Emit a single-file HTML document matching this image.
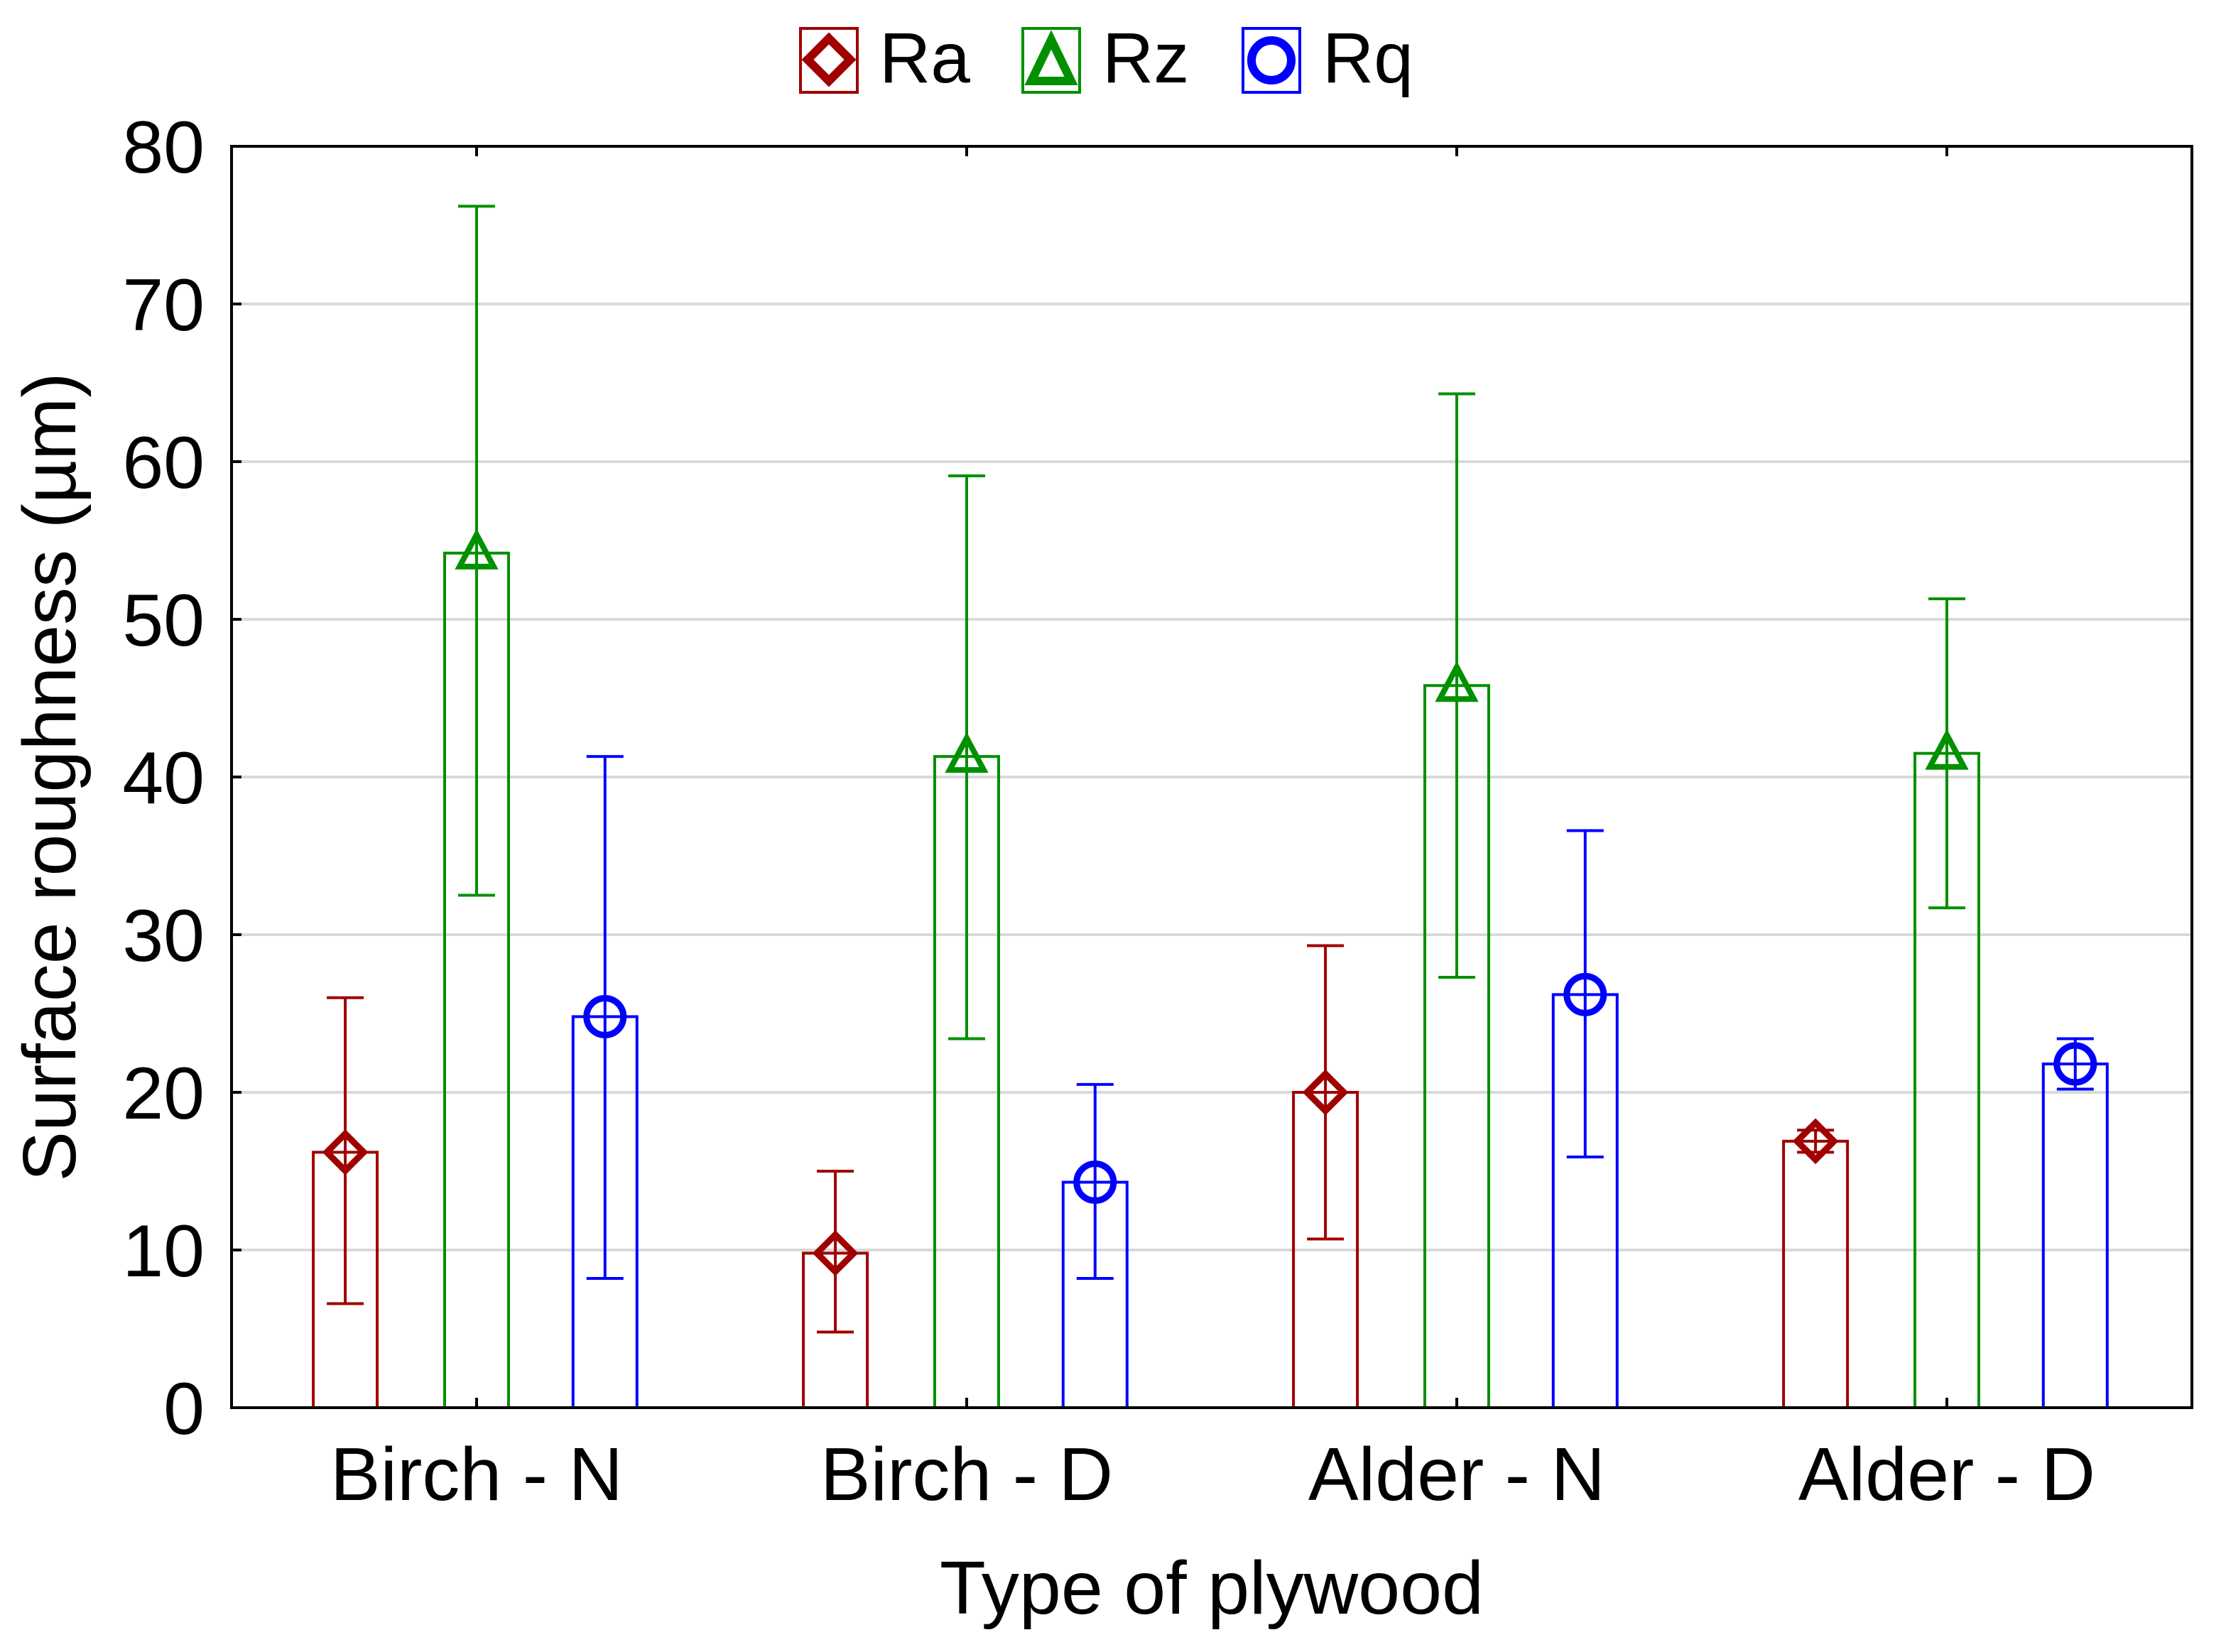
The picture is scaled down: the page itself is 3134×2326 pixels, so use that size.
<!DOCTYPE html>
<html><head><meta charset="utf-8"><style>
html,body{margin:0;padding:0;background:#fff}
svg{display:block;font-family:"Liberation Sans",Arial,sans-serif}
</style></head><body>
<svg id="chart" width="3134" height="2326" viewBox="0 0 3134 2326" xmlns="http://www.w3.org/2000/svg">
<rect width="3134" height="2326" fill="#fff"/>
<g id="grid"></g>
<g id="yticks"></g>
<g id="xticks"></g>
<g id="marks"></g>
<rect x="326" y="206" width="2760" height="1776" fill="none" stroke="#000" stroke-width="4"/>
<text transform="translate(106,1094) rotate(-90)" text-anchor="middle" font-size="106">Surface roughness (µm)</text>
<text x="1706" y="2272" text-anchor="middle" font-size="106">Type of plywood</text>
<g>
  <g>
    <rect x="1127" y="40" width="80" height="90" fill="none" stroke="#a00000" stroke-width="4"/>
    <path d="M1167 54 L1197 84 L1167 114 L1137 84 Z" fill="none" stroke="#a00000" stroke-width="12"/>
    <text x="1238" y="116" font-size="100">Ra</text>
  </g>
  <g>
    <rect x="1440" y="40" width="80" height="90" fill="none" stroke="#009000" stroke-width="4"/>
    <path d="M1480 56 L1508 114 L1452 114 Z" fill="none" stroke="#009000" stroke-width="12"/>
    <text x="1552" y="116" font-size="100">Rz</text>
  </g>
  <g>
    <rect x="1750" y="40" width="80" height="90" fill="none" stroke="#0000ff" stroke-width="4"/>
    <circle cx="1790" cy="85" r="28" fill="none" stroke="#0000ff" stroke-width="12"/>
    <text x="1862" y="116" font-size="100">Rq</text>
  </g>
</g>
</svg>
<script>
const categories = ["Birch - N","Birch - D","Alder - N","Alder - D"];
const raMean = [16.2, 9.8, 20.0, 16.9];
const raLow  = [6.6, 4.8, 10.7, 16.2];
const raHigh = [26.0, 15.0, 29.3, 17.6];
const rzMean = [54.2, 41.3, 45.8, 41.5];
const rzLow  = [32.5, 23.4, 27.3, 31.7];
const rzHigh = [76.2, 59.1, 64.3, 51.3];
const rqMean = [24.8, 14.3, 26.2, 21.8];
const rqLow  = [8.2, 8.2, 15.9, 20.2];
const rqHigh = [41.3, 20.5, 36.6, 23.4];
const yTicks = [0,10,20,30,40,50,60,70,80];

const NS="http://www.w3.org/2000/svg";
const L=326,R=3086,T=206,B=1982,YMAX=80;
const band=(R-L)/categories.length;
function y(v){return B-(v/YMAX)*(B-T);}
function xc(i){return L+band*(i+0.5);}
function mk(tag,attrs,parent){const e=document.createElementNS(NS,tag);for(const k in attrs)e.setAttribute(k,attrs[k]);parent.appendChild(e);return e;}
const grid=document.getElementById('grid'),yt=document.getElementById('yticks'),xt=document.getElementById('xticks'),marks=document.getElementById('marks');

yTicks.forEach(t=>{
  if(t>0&&t<YMAX){const g=mk('line',{x1:L,x2:R,y1:y(t),y2:y(t),stroke:'#d9d9d9','stroke-width':4},grid);
  
  }
  const tk=mk('line',{x1:L,x2:L+14,y1:y(t),y2:y(t),stroke:'#000','stroke-width':4},yt);
  
  
  const tx=mk('text',{x:288,y:y(t)+37,'text-anchor':'end','font-size':104},yt);
  
  
  tx.textContent=t;
});
categories.forEach((c,i)=>{
  const a=mk('line',{x1:xc(i),x2:xc(i),y1:B,y2:B-14,stroke:'#000','stroke-width':4},xt);
  
  
  const b=mk('line',{x1:xc(i),x2:xc(i),y1:T,y2:T+14,stroke:'#000','stroke-width':4},xt);
  
  
  const tx=mk('text',{x:xc(i),y:2112,'text-anchor':'middle','font-size':106},xt);
  
  
  tx.textContent=c;
});
const series=[
  {name:'ra',mean:raMean,lo:raLow,hi:raHigh,color:'#a00000',off:-0.268,shape:'diamond'},
  {name:'rz',mean:rzMean,lo:rzLow,hi:rzHigh,color:'#009000',off:0,shape:'triangle'},
  {name:'rq',mean:rqMean,lo:rqLow,hi:rqHigh,color:'#0000ff',off:0.262,shape:'circle'}
];
const bw=90;
series.forEach(s=>{
  s.mean.forEach((v,i)=>{
    const cx=xc(i)+s.off*band;
    const g=mk('g',{},marks);
    
    
    mk('rect',{x:cx-bw/2,y:y(v),width:bw,height:B-y(v),fill:'none',stroke:s.color,'stroke-width':4},g);
    mk('line',{x1:cx,x2:cx,y1:y(s.hi[i]),y2:y(s.lo[i]),stroke:s.color,'stroke-width':4},g);
    mk('line',{x1:cx-26,x2:cx+26,y1:y(s.hi[i]),y2:y(s.hi[i]),stroke:s.color,'stroke-width':4},g);
    mk('line',{x1:cx-26,x2:cx+26,y1:y(s.lo[i]),y2:y(s.lo[i]),stroke:s.color,'stroke-width':4},g);
    const cy=y(v);
    if(s.shape==='diamond') mk('path',{d:`M${cx} ${cy-26} L${cx+26} ${cy} L${cx} ${cy+26} L${cx-26} ${cy} Z`,fill:'none',stroke:s.color,'stroke-width':9},g);
    else if(s.shape==='triangle') mk('path',{d:`M${cx} ${cy-26} L${cx+24} ${cy+19} L${cx-24} ${cy+19} Z`,fill:'none',stroke:s.color,'stroke-width':8},g);
    else mk('circle',{cx:cx,cy:cy,r:26,fill:'none',stroke:s.color,'stroke-width':9},g);
    mk('line',{x1:cx-26,x2:cx+26,y1:cy,y2:cy,stroke:s.color,'stroke-width':3},g);
  });
});
</script>
</body></html>
